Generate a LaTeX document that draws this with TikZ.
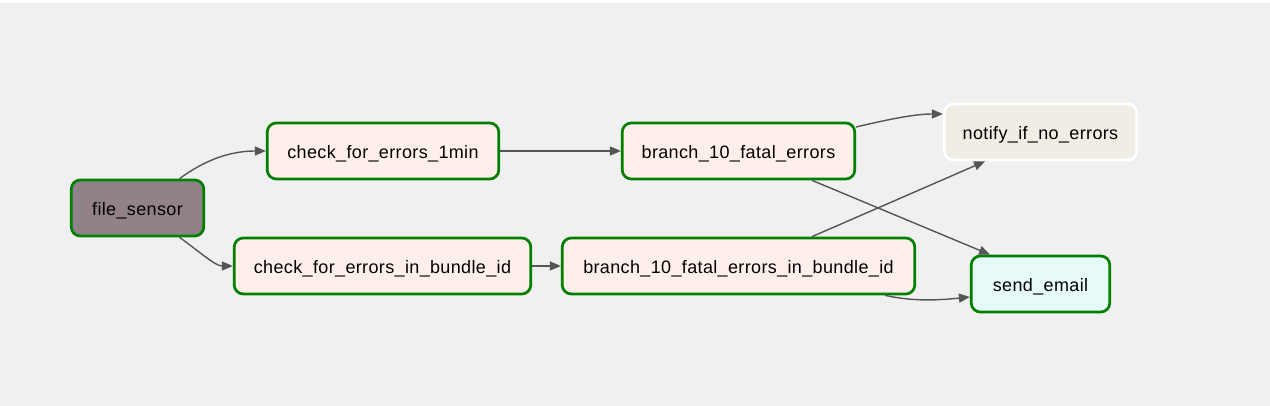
\documentclass[tikz,border=0pt]{standalone}
\usepackage{fontspec}
\setmainfont{Liberation Sans}[LetterSpace=2]
\usetikzlibrary{arrows.meta,calc}
\definecolor{bgc}{HTML}{F0F0F0}
\definecolor{okc}{HTML}{008000}
\definecolor{pyc}{HTML}{FFEFEB}
\definecolor{fsc}{HTML}{918289}
\definecolor{ntc}{HTML}{F0EDE5}
\definecolor{emc}{HTML}{E6FAF9}
\definecolor{edc}{HTML}{555555}
\begin{document}
\begin{tikzpicture}[x=1pt,y=-1pt,
  task/.style={draw=okc,line width=2.7pt,rounded corners=9pt,minimum height=56pt,
    inner sep=0pt,text height=15pt,text depth=0pt,font=\fontsize{18}{20}\selectfont,text=black},
  edge/.style={draw=edc,line width=1.4pt,-{Triangle[length=11pt,width=9pt]}}]
\useasboundingbox (0,0) rectangle (1270,406);
\fill[white] (0,0) rectangle (1270,406);
\fill[bgc] (0,3) rectangle (1270,406);
\node[task,fill=fsc,minimum width=132.5pt] (fs) at (137.5,208) {file\_sensor};
\node[task,fill=pyc,minimum width=231.5pt] (c1) at (383,151) {check\_for\_errors\_1min};
\node[task,fill=pyc,minimum width=296.5pt] (cb) at (382.5,266) {check\_for\_errors\_in\_bundle\_id};
\node[task,fill=pyc,minimum width=232.5pt] (b1) at (738.5,151) {branch\_10\_fatal\_errors};
\node[task,fill=pyc,minimum width=352.5pt] (bb) at (738.5,266) {branch\_10\_fatal\_errors\_in\_bundle\_id};
\node[task,draw=white,fill=ntc,minimum width=192.5pt] (nt) at (1040.5,132) {notify\_if\_no\_errors};
\node[task,fill=emc,minimum width=138.5pt] (se) at (1040.5,284) {send\_email};
\draw[edge] ($(fs.north)+(42,0)$) .. controls (205,160) and (230,151) .. (c1.west);
\draw[edge] ($(fs.south)+(42,0)$) .. controls (200,252) and (215,266) .. (cb.west);
\draw[edge] (c1.east) -- (b1.west);
\draw[edge] (cb.east) -- (bb.west);
\draw[edge] ($(b1.east)+(0,-24)$) .. controls (890,119) and (915,114) .. ($(nt.west)+(0,-18)$);
\draw[edge] ($(b1.south)+(73.5,0)$) -- ($(se.north)+(-50.5,0)$);
\draw[edge] ($(bb.north)+(73.5,0)$) -- ($(nt.south)+(-55.5,0)$);
\draw[edge] ($(bb.south)+(146.5,0)$) .. controls (915,302) and (940,300) .. ($(se.west)+(0,13)$);
\end{tikzpicture}
\end{document}
